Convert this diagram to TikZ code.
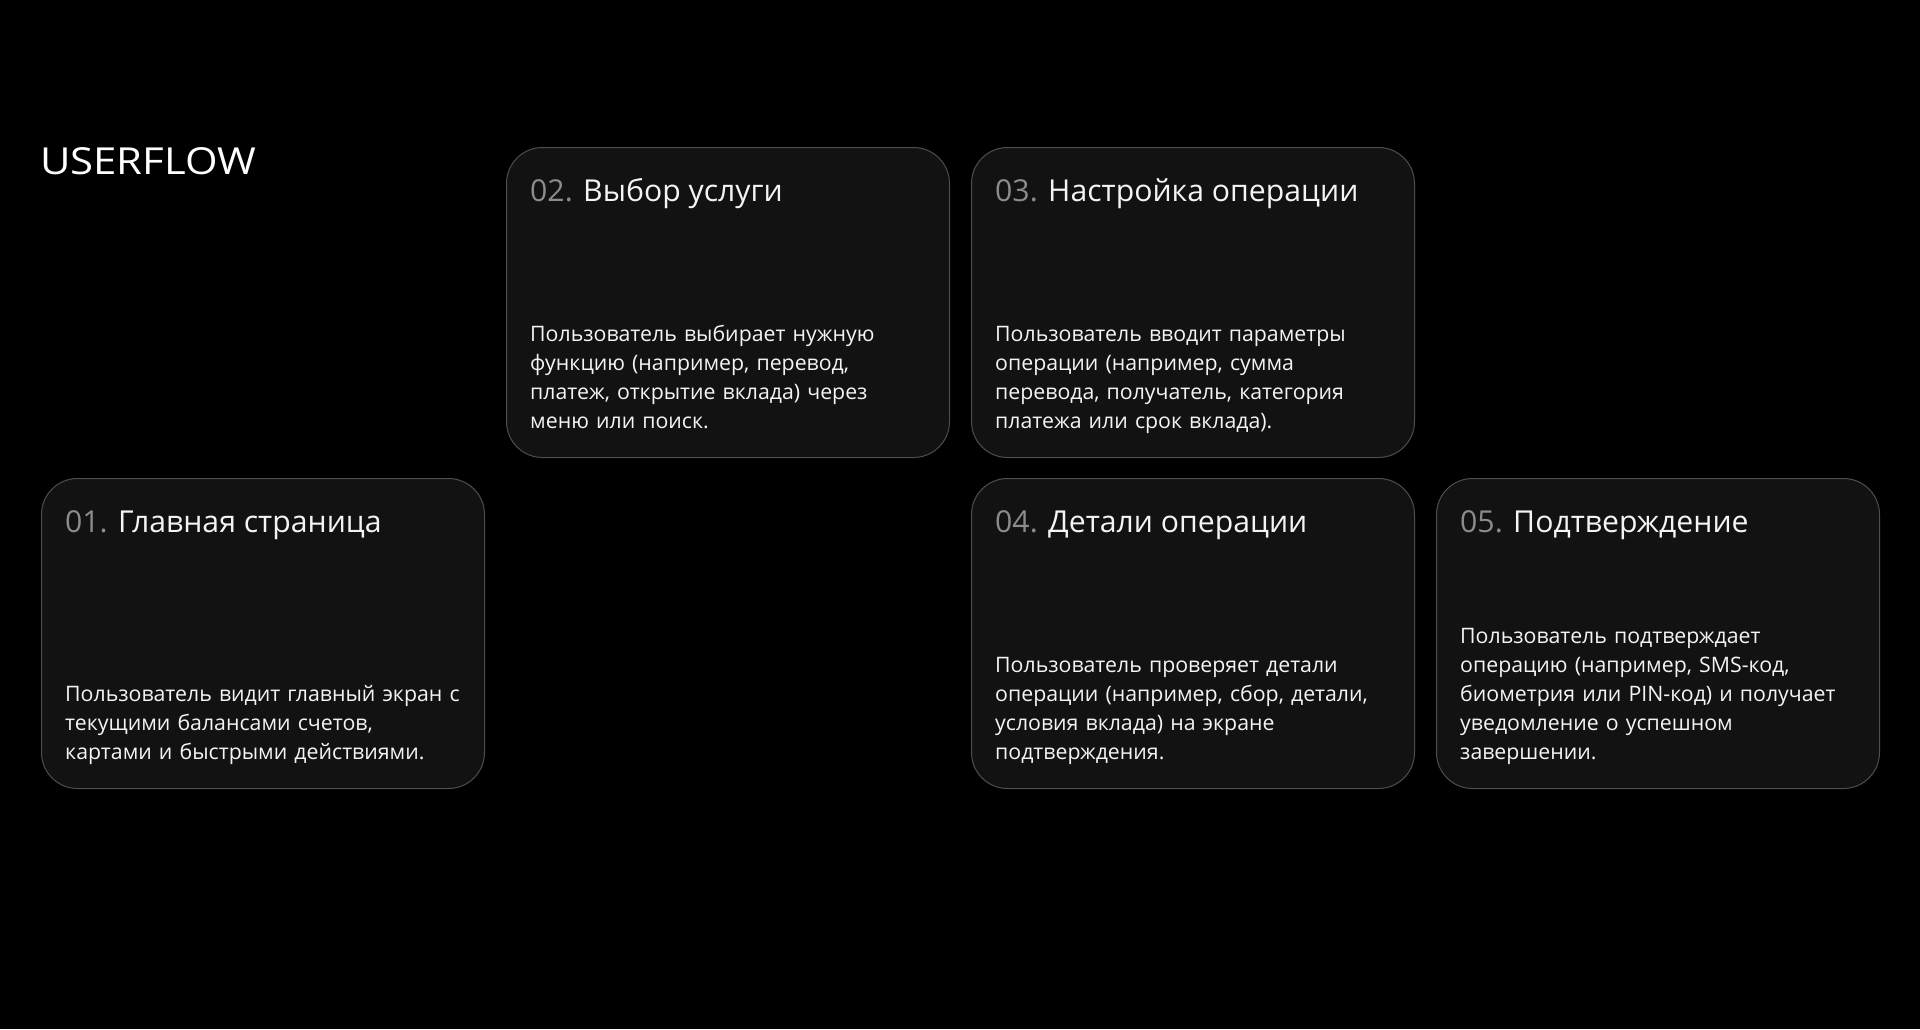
\documentclass[tikz,border=0pt]{standalone}
\usepackage{fontspec}
\usepackage{graphicx}
\setmainfont{Open Sans}
\definecolor{boxfill}{HTML}{121212}
\definecolor{boxline}{HTML}{4E4E4E}
\definecolor{numgray}{HTML}{8C8C8C}
\definecolor{txtwhite}{HTML}{F4F4F4}
\begin{document}
\begin{tikzpicture}[x=1pt,y=-1pt,
  card/.style={draw=boxline,line width=1pt,fill=boxfill,rounded corners=36pt,
    minimum width=443pt,minimum height=310pt,inner sep=0pt,anchor=north west},
  ttl/.style={anchor=base west,inner sep=0pt,text=txtwhite,font=\fontsize{30.2pt}{36pt}\selectfont},
  bodytxt/.style={anchor=base west,inner sep=0pt,text=txtwhite,align=left,text width=430pt,
    font=\fontsize{21.3pt}{29pt}\selectfont}]
\fill[black] (0,0) rectangle (1920,1029);
\useasboundingbox (0,0) rectangle (1920,1029);
% logo
\node[anchor=north west,inner sep=0pt,text=white] (logo) at (40,147)
  {\resizebox{216pt}{27pt}{USERFLOW}};
% cards
\node[card] (c1) at (41,478) {};
\node[card] (c2) at (506,147) {};
\node[card] (c3) at (971,147) {};
\node[card] (c4) at (971,478) {};
\node[card] (c5) at (1436,478) {};
% titles
\node[ttl] (t1) at (65,532) {{\color{numgray}01.} Главная страница};
\node[ttl] (t2) at (530,201) {{\color{numgray}02.} Выбор услуги};
\node[ttl] (t3) at (995,201) {{\color{numgray}03.} Настройка операции};
\node[ttl] (t4) at (995,532) {{\color{numgray}04.} Детали операции};
\node[ttl] (t5) at (1460,532) {{\color{numgray}05.} Подтверждение};
% bodies
\node[bodytxt] (b1) at (65,701) {Пользователь видит главный экран с\\текущими балансами счетов,\\картами и быстрыми действиями.};
\node[bodytxt] (b2) at (530,341) {Пользователь выбирает нужную\\функцию (например, перевод,\\платеж, открытие вклада) через\\меню или поиск.};
\node[bodytxt] (b3) at (995,341) {Пользователь вводит параметры\\операции (например, сумма\\перевода, получатель, категория\\платежа или срок вклада).};
\node[bodytxt] (b4) at (995,672) {Пользователь проверяет детали\\операции (например, сбор, детали,\\условия вклада) на экране\\подтверждения.};
\node[bodytxt] (b5) at (1460,643) {Пользователь подтверждает\\операцию (например, SMS-код,\\биометрия или PIN-код) и получает\\уведомление о успешном\\завершении.};
\end{tikzpicture}
\end{document}
